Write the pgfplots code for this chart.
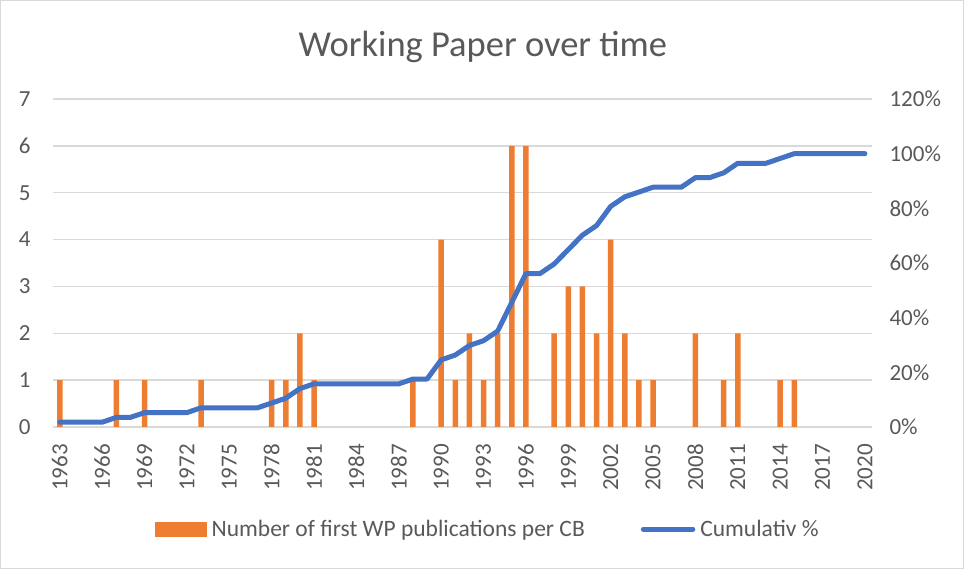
\documentclass[border=0pt]{standalone}
\usepackage{pgfplots}
\pgfplotsset{compat=1.18}
\usepackage{pgfplotstable}
\usepackage{fontspec}
\setmainfont{Carlito}
\definecolor{barorange}{HTML}{ED7D31}
\definecolor{lineblue}{HTML}{4472C4}
\definecolor{txtgray}{HTML}{595959}
\definecolor{gridgray}{HTML}{D9D9D9}

% x = year - 1963
\pgfplotstableread{
x y
0 1
4 1
6 1
10 1
15 1
16 1
17 2
18 1
25 1
27 4
28 1
29 2
30 1
31 2
32 6
33 6
35 2
36 3
37 3
38 2
39 4
40 2
41 1
42 1
45 2
47 1
48 2
51 1
52 1
}\bars

\pgfplotstableread{
x c
0 1.75
1 1.75
2 1.75
3 1.75
4 3.51
5 3.51
6 5.26
7 5.26
8 5.26
9 5.26
10 7.02
11 7.02
12 7.02
13 7.02
14 7.02
15 8.77
16 10.53
17 14.04
18 15.79
19 15.79
20 15.79
21 15.79
22 15.79
23 15.79
24 15.79
25 17.54
26 17.54
27 24.56
28 26.32
29 29.82
30 31.58
31 35.09
32 45.61
33 56.14
34 56.14
35 59.65
36 64.91
37 70.18
38 73.68
39 80.70
40 84.21
41 85.96
42 87.72
43 87.72
44 87.72
45 91.23
46 91.23
47 92.98
48 96.49
49 96.49
50 96.49
51 98.25
52 100
53 100
54 100
55 100
56 100
57 100
}\cum

\begin{document}
\begin{tikzpicture}
\path[use as bounding box] (-52.7pt,-142pt) rectangle (911.3pt,427pt);
\draw[gridgray, line width=1pt] (-52.2pt,-141.5pt) rectangle (910.8pt,426.5pt);
\pgfplotsset{
  common/.style={
    width=819.3pt, height=328pt, scale only axis,
    xmin=-0.5, xmax=57.5,
    axis line style={draw=none},
    tick style={draw=none},
    /pgf/number format/assume math mode=true,
    tick label style={font=\fontsize{23}{23}\selectfont, text=txtgray},
  }
}
\begin{axis}[
  common,
  ymin=0, ymax=7,
  ytick={0,1,...,7},
  ymajorgrids,
  grid style={gridgray, line width=1.3pt},
  xtick={0,3,...,57},
  xticklabels={1963,1966,1969,1972,1975,1978,1981,1984,1987,1990,1993,1996,1999,2002,2005,2008,2011,2014,2017,2020},
  x tick label style={yshift=-17pt, rotate=90, anchor=east, inner sep=0pt, font=\fontsize{23}{23}\selectfont},
  yticklabel style={anchor=east, inner sep=0pt, xshift=-22pt},
  title={Working Paper over time},
  title style={at={(0.525,1.14)}, anchor=center, font=\fontsize{36.5}{36.5}\selectfont, text=txtgray},
]
\addplot[ybar, bar width=5.5pt, fill=barorange, draw=none] table[x=x,y=y] {\bars};
\end{axis}
\begin{axis}[
  common,
  ymin=0, ymax=120,
  ytick pos=right,
  yticklabel pos=right,
  yticklabel shift=14pt,
  hide x axis,
  ytick={0,20,...,120},
  yticklabel={\pgfmathprintnumber[assume math mode=true]{\tick}\%},
  legend columns=2,
  legend style={at={(0.530,-0.311)}, anchor=center, draw=none, fill=none,
    font=\fontsize{23.5}{23.5}\selectfont, text=txtgray,
    nodes={inner sep=0pt},
    /tikz/every odd column/.append style={column sep=5pt},
    /tikz/every even column/.append style={column sep=56pt}},
]
\addlegendimage{legend image code/.code={\fill[barorange] (0pt,-7pt) rectangle (51pt,7pt);}}
\addlegendentry{Number of first WP publications per CB}
\addplot[lineblue, line width=5pt, line join=round, line cap=round,
  legend image code/.code={\draw[lineblue, line width=5pt, line cap=round] (2.5pt,0pt) -- (52pt,0pt);}]
  table[x=x,y=c] {\cum};
\addlegendentry{Cumulativ \%}
\end{axis}
\end{tikzpicture}
\end{document}
